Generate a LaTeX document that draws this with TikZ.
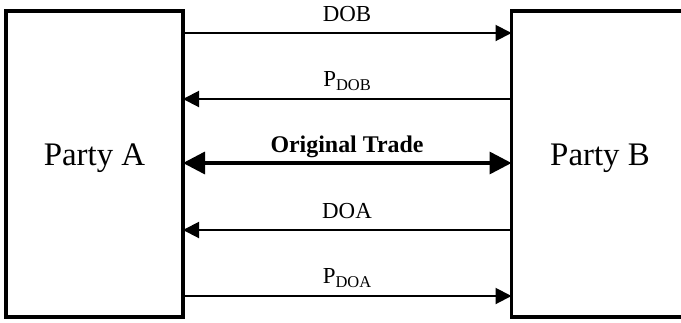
\documentclass[tikz,border=0pt]{standalone}
\usepackage{fontspec}
\setmainfont{Liberation Serif}
\usetikzlibrary{arrows.meta}
\newcommand\subtxt[1]{\raisebox{-4bp}{\fontsize{16.5}{17}\selectfont #1}}
\begin{document}
\begin{tikzpicture}[x=1bp,y=-1bp,
  box/.style={draw, line width=3.5bp, inner sep=0pt, outer sep=0pt},
  party/.style={anchor=base, font=\fontsize{33}{38}\selectfont, inner sep=0pt},
  lbl/.style={anchor=base, font=\fontsize{23}{27}\selectfont, inner sep=0pt},
  thinarrow/.style={line width=2bp, -{Triangle[length=16bp,width=16bp]}},
  bigarrow/.style={line width=3.5bp, {Triangle[length=22bp,width=22bp]}-{Triangle[length=22bp,width=22bp]}}]
\useasboundingbox (0,0) rectangle (681,322);
\node[box, minimum width=177bp, minimum height=306bp] (A) at (94.5,164) {};
\node[box, minimum width=188.5bp, minimum height=306bp] (B) at (605.75,164) {};
\node[party] (tA) at (94.5,165) {Party A};
\node[party] (tB) at (600,165) {Party B};
\coordinate (r1) at (0,33);
\coordinate (r2) at (0,99);
\coordinate (r3) at (0,163);
\coordinate (r4) at (0,230);
\coordinate (r5) at (0,296);
\draw[thinarrow] (A.east |- r1) -- (B.west |- r1);
\draw[thinarrow] (B.west |- r2) -- (A.east |- r2);
\draw[bigarrow] (A.east |- r3) -- (B.west |- r3);
\draw[thinarrow] (B.west |- r4) -- (A.east |- r4);
\draw[thinarrow] (A.east |- r5) -- (B.west |- r5);
\node[lbl] (l1) at (347,21) {DOB};
\node[lbl] (l2) at (347,86) {P\subtxt{DOB}};
\node[lbl, font=\fontsize{24}{28}\selectfont\bfseries] (l3) at (347,152) {Original Trade};
\node[lbl] (l4) at (347,218) {DOA};
\node[lbl] (l5) at (347,283) {P\subtxt{DOA}};
\end{tikzpicture}
\end{document}
